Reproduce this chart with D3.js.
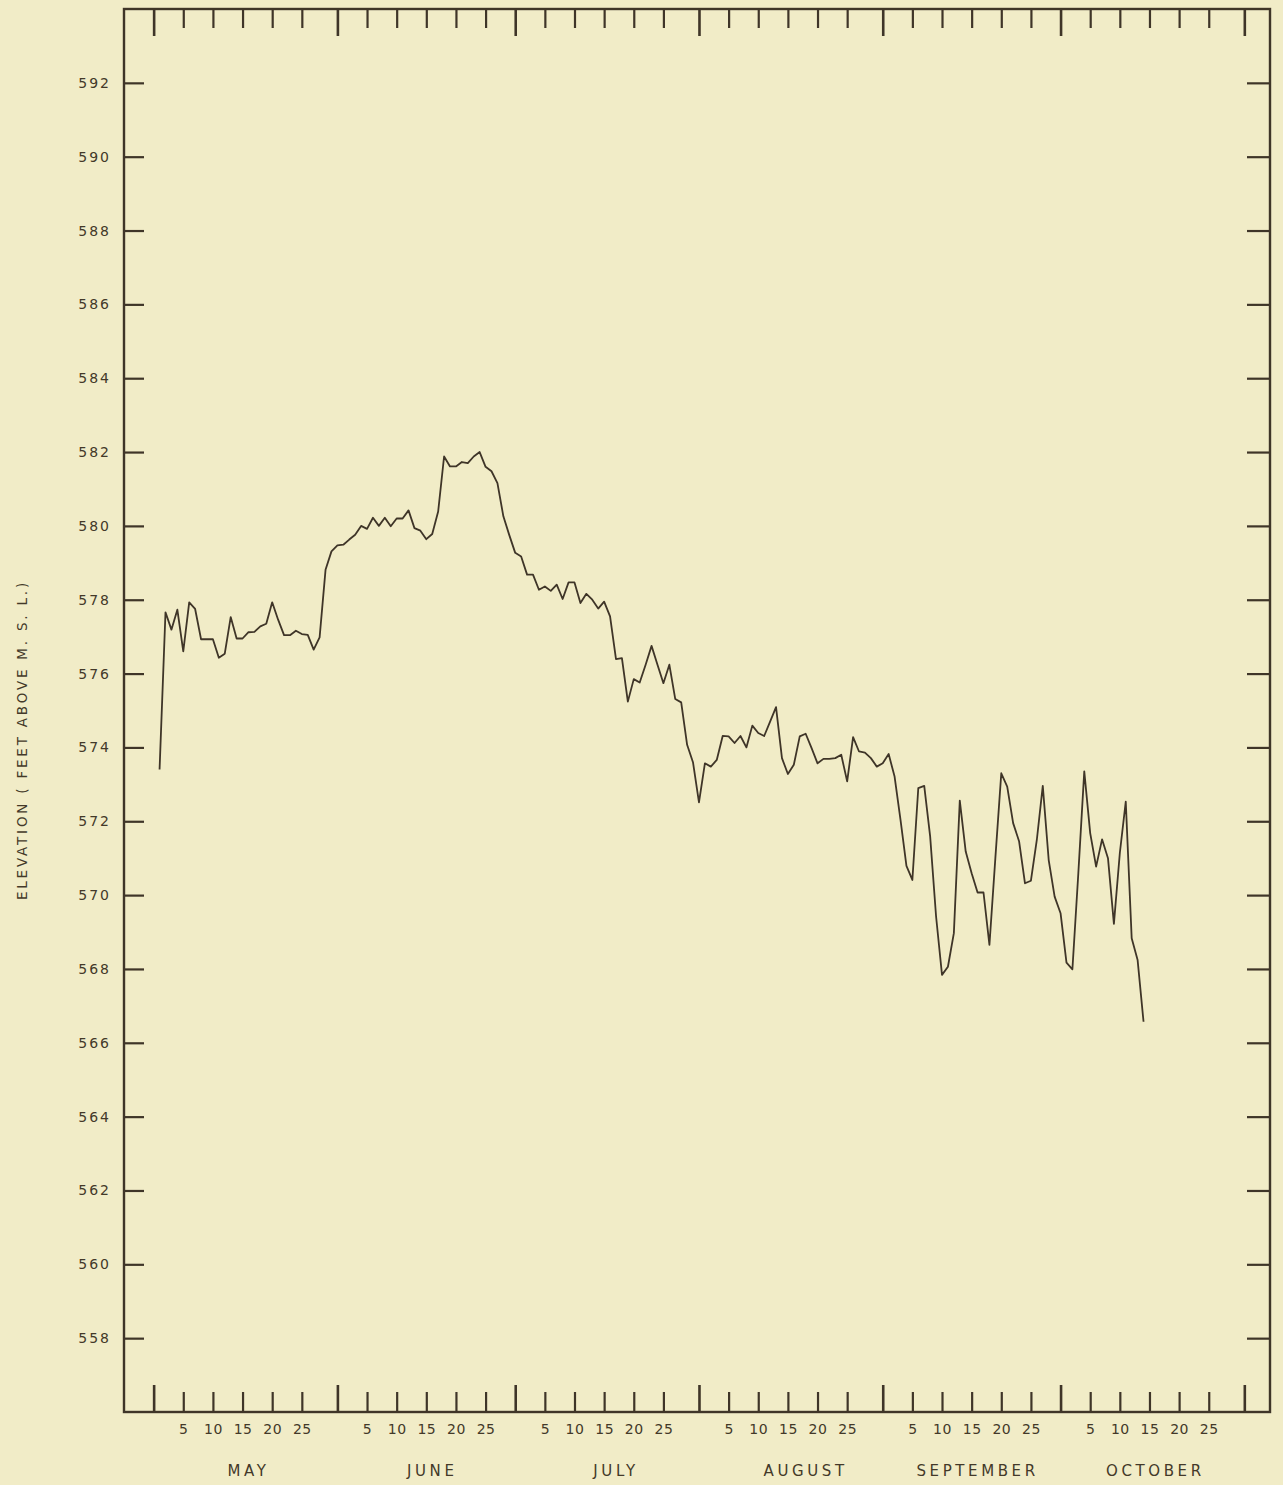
<!DOCTYPE html>
<html>
<head>
<meta charset="utf-8">
<script src="https://cdn.jsdelivr.net/npm/d3@7.9.0/dist/d3.min.js"></script>
<style>
  body { margin: 0; background: #f1ecc7; }
  svg { display: block; }
  .lbl { font-family: "DejaVu Sans", sans-serif; fill: #433929; }
</style>
</head>
<body>
<svg id="chart" width="1283" height="1485"></svg>
<script>
// daily lake elevation, feet above M.S.L.
const year = 1955;
const mayLevels = [573.4, 577.66, 577.19, 577.73, 576.6, 577.93, 577.75, 576.93, 576.93, 576.93,
  576.43, 576.54, 577.53, 576.95, 576.95, 577.12, 577.13, 577.28, 577.35, 577.93,
  577.46, 577.04, 577.04, 577.16, 577.07, 577.05, 576.65, 576.98, 578.81, 579.31, 579.47];
const juneLevels = [579.49, 579.63, 579.76, 580.0, 579.92, 580.22, 580.0, 580.22, 579.99, 580.2,
  580.2, 580.42, 579.94, 579.87, 579.64, 579.78, 580.39, 581.88, 581.61, 581.61,
  581.73, 581.7, 581.88, 582.0, 581.6, 581.48, 581.16, 580.26, 579.75, 579.27];
const julyLevels = [579.17, 578.68, 578.68, 578.27, 578.36, 578.24, 578.41, 578.02, 578.47, 578.47,
  577.91, 578.16, 578.0, 577.76, 577.95, 577.55, 576.39, 576.42, 575.24, 575.85,
  575.76, 576.24, 576.75, 576.24, 575.74, 576.24, 575.31, 575.22, 574.07, 573.59, 572.51];
const augLevels = [573.57, 573.48, 573.66, 574.31, 574.3, 574.12, 574.31, 574.0, 574.59, 574.39,
  574.31, 574.7, 575.09, 573.71, 573.28, 573.53, 574.3, 574.37, 573.98, 573.57,
  573.69, 573.69, 573.71, 573.8, 573.08, 574.28, 573.89, 573.86, 573.71, 573.48, 573.57];
const sepLevels = [573.82, 573.21, 572.04, 570.79, 570.41, 572.9, 572.96, 571.59, 569.42, 567.84,
  568.06, 568.97, 572.56, 571.18, 570.59, 570.07, 570.07, 568.65, 571.0, 573.3,
  572.94, 571.95, 571.46, 570.32, 570.39, 571.5, 572.96, 570.95, 569.96, 569.51];
const octLevels = [568.17, 567.99, 570.6, 573.35, 571.68, 570.77, 571.51, 571.0, 569.22, 571.14,
  572.53, 568.83, 568.24, 566.57];

const monthNames = ["MAY", "JUNE", "JULY", "AUGUST", "SEPTEMBER", "OCTOBER"];
const monthLabelDays = [16, 16, 17, 18, 16, 16];
const dayTicks = [5, 10, 15, 20, 25];
const elevTicks = d3.range(558, 593, 2);

const series = [mayLevels, juneLevels, julyLevels, augLevels, sepLevels, octLevels];
const data = [];
series.forEach((arr, i) => {
  arr.forEach((v, d) => data.push({ date: new Date(Date.UTC(year, 4 + i, d + 1)), value: v }));
});

const ink = "#3f3528";
const svg = d3.select("#chart");
const plotLeft = 124, plotRight = 1270, plotTop = 9, plotBottom = 1412;

const x = d3.scaleUtc()
  .domain([new Date(Date.UTC(year, 3, 25)), new Date(Date.UTC(year, 10, 4, 8))])
  .range([plotLeft, plotRight]);
const y = d3.scaleLinear().domain([556, 594]).range([plotBottom, plotTop]);

// month boundaries sit at "day 0" of each month
const majors = d3.range(4, 11).map(m => new Date(Date.UTC(year, m, 0)));
const minors = [];
d3.range(4, 10).forEach(m => dayTicks.forEach(d => minors.push(new Date(Date.UTC(year, m, d)))));

function styleAxis(g, w) {
  g.select(".domain").remove();
  g.selectAll(".tick line").attr("stroke", ink).attr("stroke-width", w);
  g.selectAll(".tick text").attr("class", "lbl").attr("fill", "#433929");
}

// bottom
svg.append("g").attr("transform", `translate(0,${plotBottom})`)
  .call(d3.axisBottom(x).tickValues(majors).tickSize(-27).tickFormat(""))
  .call(g => styleAxis(g, 2.6));
svg.append("g").attr("transform", `translate(0,${plotBottom})`)
  .call(d3.axisBottom(x).tickValues(minors).tickSize(-20).tickPadding(12)
    .tickFormat(d => d.getUTCDate()))
  .call(g => styleAxis(g, 2.2))
  .call(g => g.selectAll("text").attr("font-size", 14).style("letter-spacing", "0.5px"));

// top
svg.append("g").attr("transform", `translate(0,${plotTop})`)
  .call(d3.axisTop(x).tickValues(majors).tickSize(-27).tickFormat(""))
  .call(g => styleAxis(g, 2.6));
svg.append("g").attr("transform", `translate(0,${plotTop})`)
  .call(d3.axisTop(x).tickValues(minors).tickSize(-19).tickFormat(""))
  .call(g => styleAxis(g, 2.2));

// left / right
svg.append("g").attr("transform", `translate(${plotLeft},0)`)
  .call(d3.axisLeft(y).tickValues(elevTicks).tickSize(-20).tickPadding(13))
  .call(g => styleAxis(g, 2.2))
  .call(g => g.selectAll("text").attr("font-size", 14).style("letter-spacing", "2px"));
svg.append("g").attr("transform", `translate(${plotRight},0)`)
  .call(d3.axisRight(y).tickValues(elevTicks).tickSize(-23).tickFormat(""))
  .call(g => styleAxis(g, 2.2));

// frame
svg.append("rect")
  .attr("x", plotLeft).attr("y", plotTop)
  .attr("width", plotRight - plotLeft).attr("height", plotBottom - plotTop)
  .attr("fill", "none").attr("stroke", ink).attr("stroke-width", 2.4);

// month names
svg.append("g").selectAll("text")
  .data(monthNames)
  .join("text")
  .attr("class", "lbl")
  .attr("x", (d, i) => x(new Date(Date.UTC(year, 4 + i, monthLabelDays[i]))))
  .attr("y", 1476)
  .attr("text-anchor", "middle")
  .attr("font-size", 15)
  .style("letter-spacing", "3.6px")
  .text(d => d);

// y title
svg.append("text")
  .attr("class", "lbl")
  .attr("transform", `translate(27,${y(574.2)}) rotate(-90)`)
  .attr("text-anchor", "middle")
  .attr("font-size", 13.5)
  .style("letter-spacing", "2.8px")
  .text("ELEVATION ( FEET ABOVE M. S. L.)");

// elevation line
const line = d3.line().x(d => x(d.date)).y(d => y(d.value));
svg.append("path")
  .datum(data)
  .attr("d", line)
  .attr("fill", "none")
  .attr("stroke", ink)
  .attr("stroke-width", 1.8)
  .attr("stroke-linejoin", "round");
</script>
</body>
</html>
